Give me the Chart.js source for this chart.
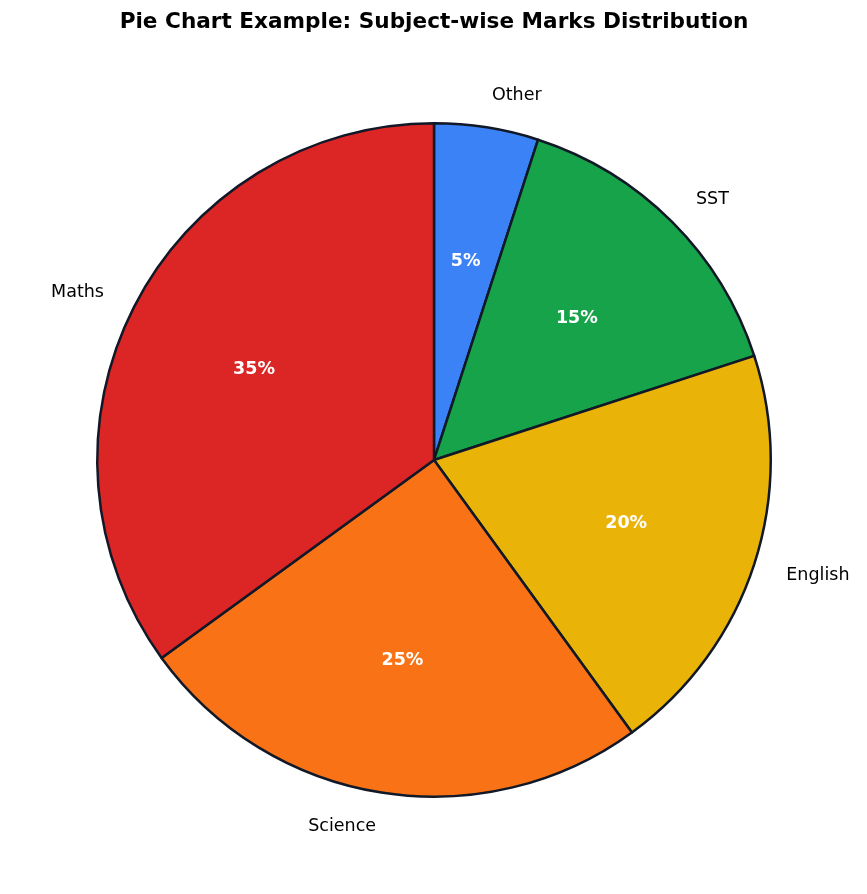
<!DOCTYPE html>
<html>
<head>
<meta charset="utf-8">
<script src="https://cdn.jsdelivr.net/npm/chart.js@4.4.1/dist/chart.umd.min.js"></script>
<style>
  html, body { margin: 0; padding: 0; background: #fff; }
  #wrap { width: 867px; height: 894px; }
</style>
</head>
<body>
<div id="wrap"><canvas id="chart"></canvas></div>
<script>
// data (drawn clockwise from the top, so order is reversed vs. the legend)
const subjects = ['Other', 'SST', 'English', 'Science', 'Maths'];
const marks = [5, 15, 20, 25, 35];
const colours = ['#3b82f6', '#16a34a', '#eab308', '#f97316', '#dc2626'];

// labels outside and percentages inside, like matplotlib autopct
const sliceLabels = {
    id: 'sliceLabels',
    afterDatasetsDraw(chart) {
        const ctx = chart.ctx;
        const meta = chart.getDatasetMeta(0);
        const total = marks.reduce((a, b) => a + b, 0);
        ctx.save();
        ctx.textBaseline = 'middle';
        meta.data.forEach((arc, i) => {
            const mid = (arc.startAngle + arc.endAngle) / 2;
            const r = arc.outerRadius;
            const c = Math.cos(mid), s = Math.sin(mid);

            // category label
            ctx.font = '17.5px "DejaVu Sans"';
            ctx.fillStyle = '#000';
            ctx.textAlign = c >= 0 ? 'left' : 'right';
            ctx.fillText(subjects[i], arc.x + c * r * 1.1, arc.y + s * r * 1.1 + 1);

            // percentage
            ctx.font = 'bold 17.5px "DejaVu Sans"';
            ctx.fillStyle = '#fff';
            ctx.textAlign = 'center';
            const pct = Math.round(marks[i] / total * 100) + '%';
            ctx.fillText(pct, arc.x + c * r * 0.6, arc.y + s * r * 0.6 + 1);
        });
        ctx.restore();
    }
};

var ctx = document.getElementById('chart').getContext('2d');
var myChart = new Chart(ctx, {
    type: 'pie',
    data: {
        labels: subjects,
        datasets: [{
            data: marks,
            backgroundColor: colours,
            borderColor: '#111827',
            borderWidth: 2.5,
            borderJoinStyle: 'round'
        }]
    },
    options: {
        responsive: true,
        maintainAspectRatio: false,
        animation: false,
        events: [],
        rotation: 0,
        layout: {
            padding: { top: 0, bottom: 96, left: 96, right: 95 }
        },
        plugins: {
            legend: { display: false },
            tooltip: { enabled: false },
            title: {
                display: true,
                text: 'Pie Chart Example: Subject-wise Marks Distribution',
                color: '#000',
                font: { family: 'DejaVu Sans', size: 21.6, weight: 'bold' },
                padding: { top: 9, bottom: 87 }
            }
        }
    },
    plugins: [sliceLabels]
});
</script>
</body>
</html>
